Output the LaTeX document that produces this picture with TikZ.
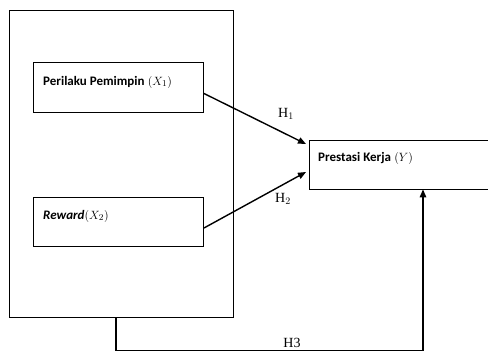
\documentclass[tikz,border=0pt]{standalone}
\usepackage{fontspec}
\setmainfont{Liberation Serif}
\newfontfamily\calfont{Carlito}
\usetikzlibrary{arrows.meta,calc}
\begin{document}
\begin{tikzpicture}[x=1pt,y=-1pt,
  box/.style={draw, line width=1pt, inner sep=0pt, anchor=north west},
  outerbox/.style={draw, line width=1.4pt, inner sep=0pt, anchor=north west},
  arr/.style={line width=1.4pt, -{Triangle[length=8pt,width=6.5pt]}},
  txt/.style={anchor=west, inner sep=0pt, font=\fontsize{13}{15}\selectfont},
  lbl/.style={inner sep=0pt, font=\fontsize{14}{16}\selectfont}]
\useasboundingbox (0,0) rectangle (488,351);
\node[outerbox, minimum width=224, minimum height=307] (outer) at (9,10) {};
\node[box, minimum width=170, minimum height=50] (box1) at (33,62) {};
\node[box, minimum width=170, minimum height=49] (box2) at (33,197) {};
\node[inner sep=0pt, anchor=north west, minimum width=179, minimum height=49] (ybox) at (309,140) {};
\draw[line width=1pt] (ybox.north east) -- (ybox.north west) -- (ybox.south west) -- (ybox.south east);
\node[txt] (t1) at (43,82) {{\calfont\bfseries Perilaku Pemimpin} $(X_1)$};
\node[txt] (t2) at (43,216) {{\calfont\bfseries\itshape Reward}$(X_2)$};
\node[txt] (t3) at (318,158) {{\calfont\bfseries Prestasi Kerja} $(Y)$};
\coordinate (h1s) at ($(box1.east)+(0,6)$);
\coordinate (h1e) at ($(ybox.north west)+(-3,4)$);
\coordinate (h2s) at ($(box2.east)+(0,6)$);
\coordinate (h2e) at ($(ybox.north west)+(-3,32)$);
\draw[arr] (h1s) -- (h1e);
\draw[arr] (h2s) -- (h2e);
\node[lbl] (l1) at (286,114) {H$_1$};
\node[lbl] (l2) at (283,199) {H$_2$};
\coordinate (h3a) at ($(outer.south west)+(107,0)$);
\coordinate (h3b) at ($(ybox.south west)+(114,0)$);
\draw[arr] (h3a) -- ++(0,32) -| (h3b);
\node[lbl, anchor=base] (l3) at (292,347.5) {H3};
\end{tikzpicture}
\end{document}
